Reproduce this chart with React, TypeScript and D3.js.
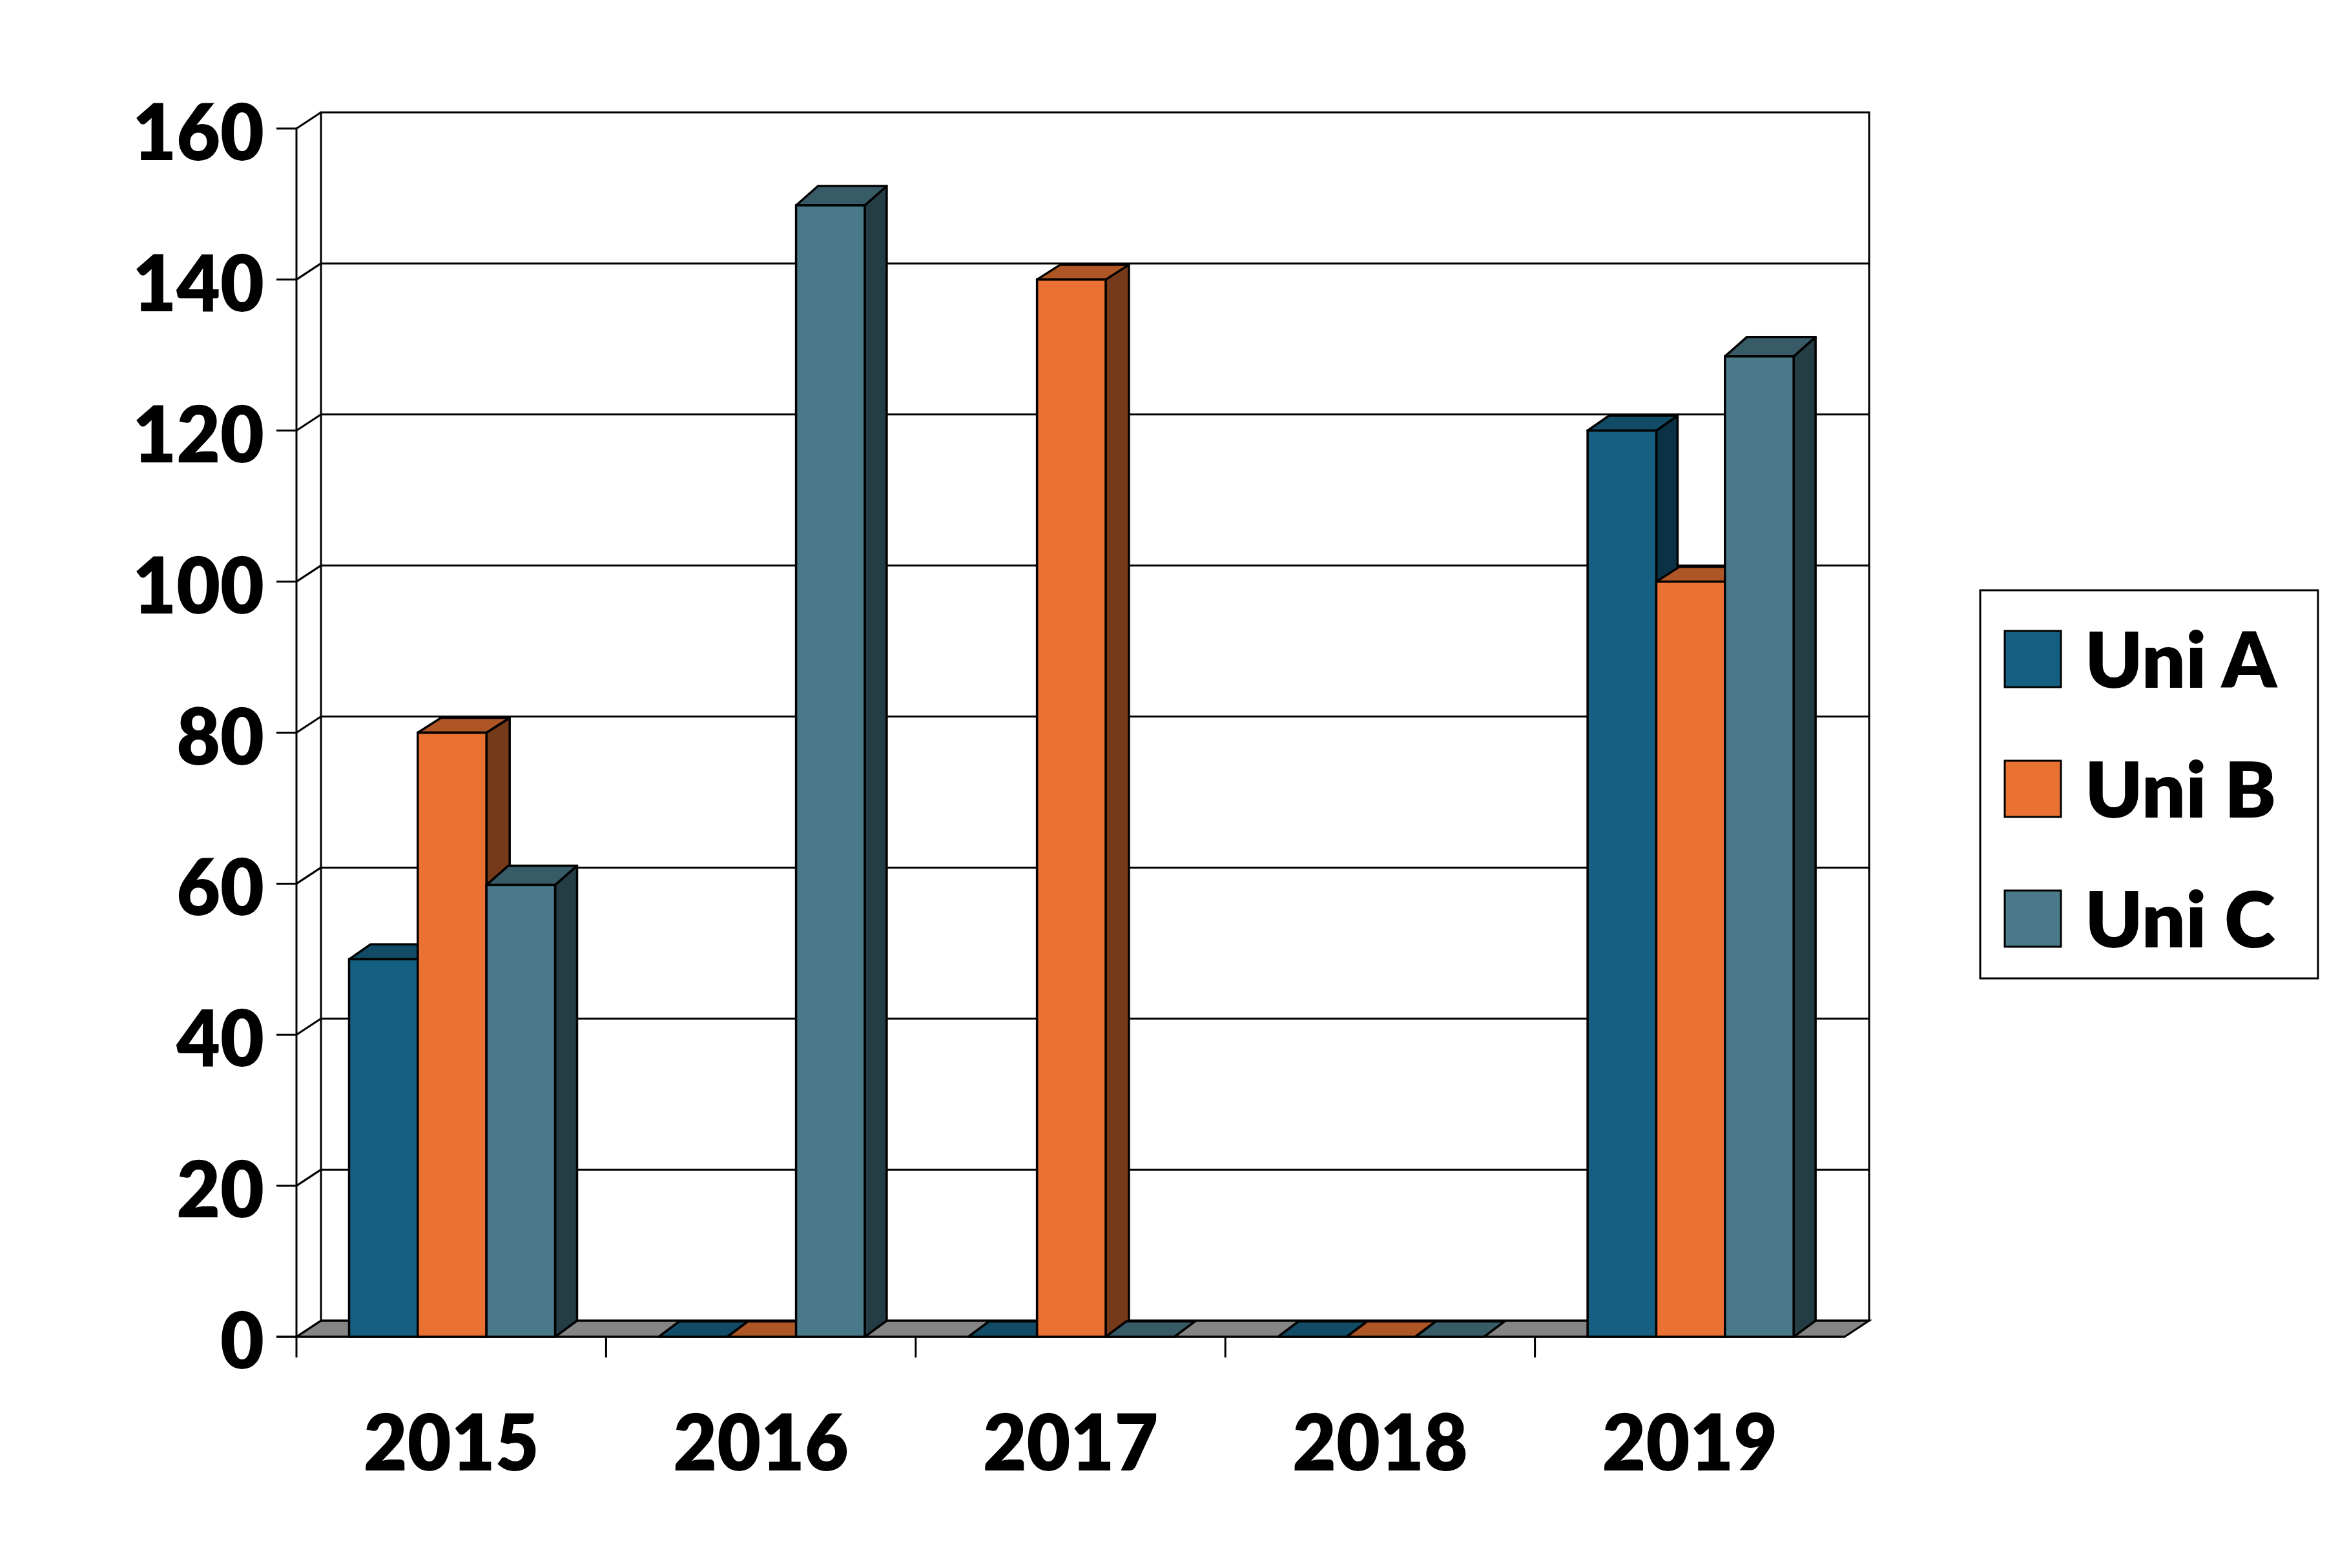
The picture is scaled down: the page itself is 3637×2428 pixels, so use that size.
import React from "react";
import * as d3 from "d3";

const years = ["2015", "2016", "2017", "2018", "2019"];
const seriesNames = ["Uni A", "Uni B", "Uni C"];
const uniA = [50, 0, 0, 0, 120];
const uniB = [80, 0, 140, 0, 100];
const uniC = [60, 150, 0, 0, 130];
const seriesValues = [uniA, uniB, uniC];
const yTicks = [0, 20, 40, 60, 80, 100, 120, 140, 160];

const frontFill = ["#156082", "#E97132", "#4A7A8A"];
const topFill = ["#124B65", "#AF5626", "#385C67"];
const sideFill = ["#0B3145", "#753A1A", "#243C44"];
const floorFill = "#858585";

const W = 3637, H = 2428;
const x0 = 459, x1 = 2856, yBase = 2070, yTop = 199;
const depthX = 38, depthY = 25;
const barDX = [33, 36, 34];
const barDY = [23, 23, 30];
const barTopShift = [0, 0, 2];
const zeroDX = 32, zeroDY = 24;
const SW = 3;
const BSW = 3.5;
const FONT = "Lato, 'Noto Sans', sans-serif";
const TEXT_SQUEEZE = 0.96;

const y = d3.scaleLinear().domain([0, 160]).range([yBase, yTop]);
const xBand = d3.scaleBand<string>().domain(years).range([x0, x1]);
const xSeries = d3.scaleBand<string>().domain(seriesNames).range([81.5, 400.5]);
const legendY = d3.scalePoint<string>().domain(seriesNames).range([977, 1379]);
const poly = (pts: [number, number][]) => (d3.line()(pts) as string) + "Z";

export default function App() {
  const backL = x0 + depthX, backR = x1 + depthX;
  const bw = xSeries.bandwidth();
  return (
    <svg width={W} height={H} viewBox={`0 0 ${W} ${H}`}
      style={{ position: "absolute", left: 0, top: 0, background: "#fff" }}>
      <path d={poly([[x0, yBase], [x1, yBase], [backR, yBase - depthY], [backL, yBase - depthY]])}
        fill={floorFill} stroke="#000" strokeWidth={SW} />
      <path d={poly([[backL, y(160) - depthY], [backR, y(160) - depthY], [backR, yBase - depthY], [backL, yBase - depthY]])}
        fill="none" stroke="#000" strokeWidth={SW} />
      {yTicks.map((t) => (
        <g key={t}>
          {t > 0 && t < 160 && (
            <line x1={backL} x2={backR} y1={y(t) - depthY} y2={y(t) - depthY} stroke="#000" strokeWidth={SW} />
          )}
          <line x1={x0} x2={backL} y1={y(t)} y2={y(t) - depthY} stroke="#000" strokeWidth={SW} />
          <line x1={428} x2={x0} y1={y(t)} y2={y(t)} stroke="#000" strokeWidth={SW} />
          <text transform={`translate(409,${y(t) + 49}) scale(${TEXT_SQUEEZE},1)`} textAnchor="end"
            fontFamily={FONT} fontWeight={800} fontSize={122} fill="#000">{t}</text>
        </g>
      ))}
      <line x1={x0} x2={x0} y1={y(160)} y2={2102} stroke="#000" strokeWidth={SW} />
      <line x1={428} x2={x1} y1={yBase} y2={yBase} stroke="#000" strokeWidth={SW} />
      {years.slice(1).map((yr) => (
        <line key={yr} x1={xBand(yr)!} x2={xBand(yr)!} y1={yBase} y2={2102} stroke="#000" strokeWidth={SW} />
      ))}
      {years.map((yr, i) => (
        <g key={yr}>
          {seriesNames.map((s, j) => {
            const l = xBand(yr)! + xSeries(s)!;
            const r = l + bw;
            const v = seriesValues[j][i];
            const t = v > 0 ? y(v) + barTopShift[j] : yBase;
            const dy = v > 0 ? barDY[j] : zeroDY;
            const dx = v > 0 ? barDX[j] : zeroDX;
            return (
              <g key={s}>
                {v > 0 && (
                  <path d={poly([[r, t], [r + dx, t - dy], [r + dx, yBase - depthY], [r, yBase]])}
                    fill={sideFill[j]} stroke="#000" strokeWidth={BSW} strokeLinejoin="round" />
                )}
                <path d={poly([[l, t], [l + dx, t - dy], [r + dx, t - dy], [r, t]])}
                  fill={topFill[j]} stroke="#000" strokeWidth={BSW} strokeLinejoin="round" />
                {v > 0 && (
                  <rect x={l} y={t} width={bw} height={yBase - t}
                    fill={frontFill[j]} stroke="#000" strokeWidth={BSW} />
                )}
              </g>
            );
          })}
        </g>
      ))}
      {years.map((yr) => (
        <text key={yr} transform={`translate(${xBand(yr)! + xBand.bandwidth() / 2},2277) scale(${TEXT_SQUEEZE},1)`}
          textAnchor="middle" fontFamily={FONT} fontWeight={800} fontSize={122} fill="#000">{yr}</text>
      ))}
      <rect x={3066} y={914} width={523} height={601} fill="#fff" stroke="#000" strokeWidth={SW} />
      {seriesNames.map((s, j) => (
        <g key={s}>
          <rect x={3104} y={legendY(s)!} width={87} height={87} fill={frontFill[j]} stroke="#000" strokeWidth={SW} />
          <text x={3228} y={legendY(s)! + 88} fontFamily={FONT} fontWeight={800} fontSize={120} fill="#000">{s}</text>
        </g>
      ))}
    </svg>
  );
}
